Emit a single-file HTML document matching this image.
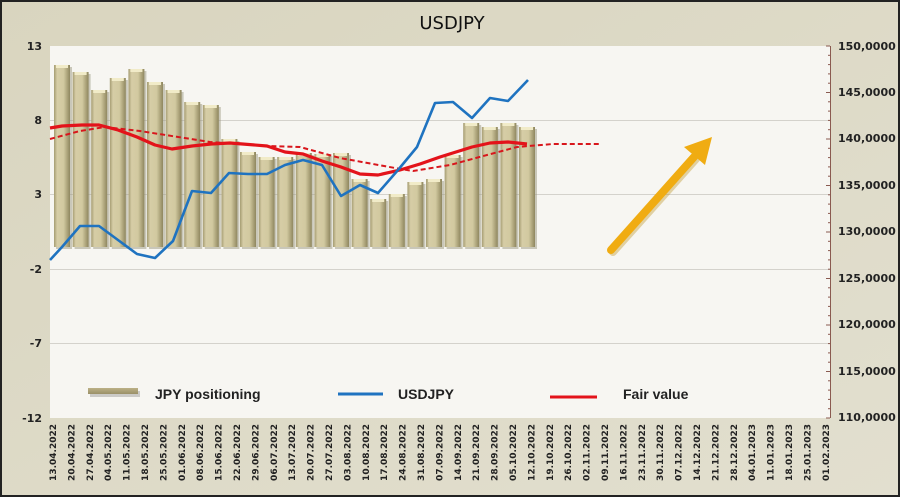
<!DOCTYPE html>
<html><head><meta charset="utf-8"><style>
html,body{margin:0;padding:0;background:#dcd8c4;}
svg{display:block;}
</style></head><body>
<svg width="900" height="497" viewBox="0 0 900 497" xmlns="http://www.w3.org/2000/svg">
<defs>
<linearGradient id="bg" x1="0" y1="0" x2="1" y2="1">
<stop offset="0" stop-color="#d9d5bf"/><stop offset="1" stop-color="#e2dfcf"/></linearGradient>
<linearGradient id="bar" x1="0" y1="0" x2="1" y2="0">
<stop offset="0" stop-color="#a59c72"/><stop offset="0.2" stop-color="#d6cda6"/><stop offset="0.6" stop-color="#d2c9a0"/><stop offset="1" stop-color="#8f875f"/></linearGradient>
<linearGradient id="sw" x1="0" y1="0" x2="0" y2="1">
<stop offset="0" stop-color="#bcb187"/><stop offset="1" stop-color="#9a9068"/></linearGradient>
</defs>
<rect x="0" y="0" width="900" height="497" fill="url(#bg)"/>
<rect x="1" y="1" width="898" height="495" fill="none" stroke="#222" stroke-width="2"/>
<text x="452" y="29" font-family="DejaVu Sans, sans-serif" font-size="18" text-anchor="middle" fill="#111">USDJPY</text>
<rect x="50" y="46" width="780" height="372" fill="#f7f6f2"/>
<g stroke="#d4d2cc" stroke-width="1">
<line x1="50" y1="120.5" x2="830" y2="120.5"/>
<line x1="50" y1="194.5" x2="830" y2="194.5"/>
<line x1="50" y1="269.5" x2="830" y2="269.5"/>
<line x1="50" y1="343.5" x2="830" y2="343.5"/>
</g>
<g font-family="DejaVu Sans, sans-serif" font-size="11" font-weight="bold" fill="#222" text-anchor="end">
<text x="42" y="50">13</text><text x="42" y="124">8</text><text x="42" y="198">3</text>
<text x="42" y="273">-2</text><text x="42" y="347">-7</text><text x="42" y="422">-12</text>
</g>
<g font-family="DejaVu Sans, sans-serif" font-size="11" font-weight="bold" fill="#222">
<text x="838" y="50">150,0000</text><text x="838" y="96">145,0000</text><text x="838" y="142">140,0000</text>
<text x="838" y="189">135,0000</text><text x="838" y="235">130,0000</text><text x="838" y="282">125,0000</text>
<text x="838" y="328">120,0000</text><text x="838" y="375">115,0000</text><text x="838" y="421">110,0000</text>
</g>
<line x1="830.5" y1="46" x2="830.5" y2="418" stroke="#8a5a50" stroke-width="1"/>
<g id="ticks" stroke="#8a5a50" stroke-width="1"></g>
<g id="bars"></g>
<polyline fill="none" stroke="#d8161c" stroke-width="2" stroke-dasharray="5,3" points="50,139 80,131 105,127 140,131 210,142 267,146 300,147 340,158 395,168 413,171 450,165 487,155 517,147 553,144 600,144"/>
<polyline fill="none" stroke="#e3131a" stroke-width="3.2" stroke-linejoin="round" points="50,128 62,126 82,125 99,125 118,130 137,137 155,145 172,149 192,146 211,144 230,143 267,146 285,152 303,154 322,161 341,167 360,174 378,175 400,170 420,164 440,157 472,147 490,143 508,142 527,144"/>
<polyline fill="none" stroke="#1f73c0" stroke-width="2.6" stroke-linejoin="round" points="50,260 62,247 80,226 99,226 118,240 137,254 155,258 173,241 192,191 211,193 229,173 248,174 267,174 285,165 303,160 322,165 341,196 360,185 378,193 398,170 417,147 435,103 453,102 472,118 490,98 508,101 528,80"/>
<g>
<line x1="611" y1="250" x2="694" y2="157" stroke="#b88a10" stroke-width="8" stroke-linecap="round" opacity="0.35" transform="translate(2,2)"/>
<line x1="611" y1="250" x2="694" y2="157" stroke="#f0ac12" stroke-width="8" stroke-linecap="round"/>
<polygon points="712,137 705,165 684,147" fill="#f0ac12"/>
</g>
<rect x="90" y="391" width="50" height="6" fill="#777" opacity="0.35"/>
<rect x="88" y="388" width="50" height="6" fill="url(#sw)"/>
<line x1="338" y1="394" x2="383" y2="394" stroke="#1f73c0" stroke-width="3"/>
<line x1="550" y1="397" x2="597" y2="397" stroke="#e3131a" stroke-width="3"/>
<g font-family="Liberation Sans, sans-serif" font-size="14" font-weight="bold" fill="#222">
<text x="155" y="399">JPY positioning</text>
<text x="398" y="399">USDJPY</text>
<text x="623" y="399">Fair value</text>
</g>
<g id="labels" font-family="DejaVu Sans, sans-serif" font-size="9" font-weight="bold" fill="#222"></g>
<script>
(function(){
var ns="http://www.w3.org/2000/svg";
var t=document.getElementById("ticks");
for(var v=110;v<=150;v++){var y=418-(v-110)*9.3;var l=document.createElementNS(ns,"line");
l.setAttribute("x1",v%5==0?826:828);l.setAttribute("x2",830);l.setAttribute("y1",y);l.setAttribute("y2",y);t.appendChild(l);}
var tops=[65,72,90,78,69,82,90,102,105,139,152,157,157,153,154,153,179,199,194,182,179,155,123,127,123,127];
var b=document.getElementById("bars");
tops.forEach(function(tp,i){var cx=62+18.6*i;
var r=document.createElementNS(ns,"rect");r.setAttribute("x",cx-8+2);r.setAttribute("y",tp+2);r.setAttribute("width",16);r.setAttribute("height",247-tp);r.setAttribute("fill","#9b977f");r.setAttribute("opacity","0.5");b.appendChild(r);
r=document.createElementNS(ns,"rect");r.setAttribute("x",cx-8);r.setAttribute("y",tp);r.setAttribute("width",16);r.setAttribute("height",247-tp);r.setAttribute("fill","url(#bar)");b.appendChild(r);
r=document.createElementNS(ns,"rect");r.setAttribute("x",cx-6);r.setAttribute("y",tp);r.setAttribute("width",12);r.setAttribute("height",3);r.setAttribute("fill","#f1ebc8");b.appendChild(r);});
var d=new Date(2022,3,13);var g=document.getElementById("labels");
for(var i=0;i<43;i++){var dd=new Date(d.getTime()+i*7*86400000+3600000*12);
var s=("0"+dd.getDate()).slice(-2)+"."+("0"+(dd.getMonth()+1)).slice(-2)+"."+dd.getFullYear();
var x=53+18.4*i+3;var tx=document.createElementNS(ns,"text");tx.setAttribute("x",0);tx.setAttribute("y",0);
tx.setAttribute("text-anchor","end");tx.setAttribute("transform","translate("+x+",424) rotate(-90)");tx.textContent=s;g.appendChild(tx);}
})();
</script>
</svg>
</body></html>
